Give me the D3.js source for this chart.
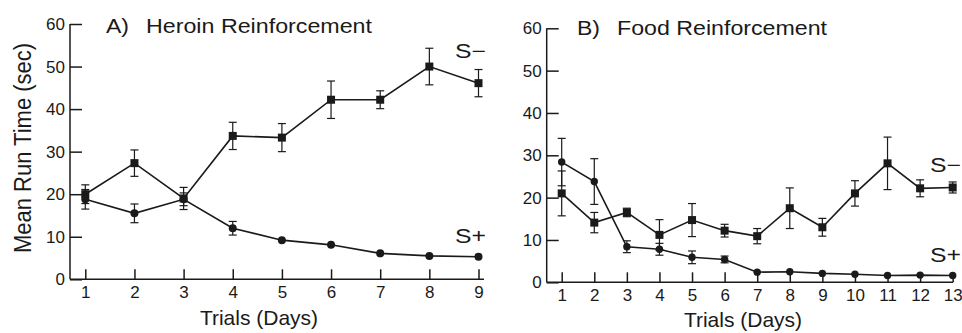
<!DOCTYPE html>
<html>
<head>
<meta charset="utf-8">
<script src="https://cdn.jsdelivr.net/npm/d3@7"></script>
<style>
  body { margin: 0; background: #fff; }
  svg { display: block; font-family: "Liberation Sans", Arial, Helvetica, sans-serif; }
  .axis text { font-size: 17px; fill: #1a1a1a; }
  .axis line, .axis path { stroke: #1a1a1a; stroke-width: 1.5; }
</style>
</head>
<body>
<script>
'use strict';

// tick values
const yTicks = [0, 10, 20, 30, 40, 50, 60];
const daysA = [1, 2, 3, 4, 5, 6, 7, 8, 9];
const daysB = [1, 2, 3, 4, 5, 6, 7, 8, 9, 10, 11, 12, 13];

// A) heroin reinforcement (mean run time, sec, and error)
const heroinSminus = [20.0, 27.3, 19.0, 33.7, 33.3, 42.2, 42.2, 50.0, 46.1];
const heroinSminusErr = [2.2, 3.1, 2.6, 3.2, 3.3, 4.4, 2.1, 4.3, 3.2];
const heroinSplus = [18.8, 15.5, 18.8, 12.0, 9.2, 8.1, 6.1, 5.5, 5.3];
const heroinSplusErr = [2.3, 2.2, 1.5, 1.6, 0, 0, 0, 0, 0];

// B) food reinforcement
const foodSminus = [21.0, 14.1, 16.5, 11.2, 14.7, 12.2, 10.9, 17.5, 13.0, 21.0, 28.1, 22.2, 22.4];
const foodSminusErr = [5.3, 2.4, 1.0, 3.6, 3.9, 1.5, 1.8, 4.8, 2.1, 3.0, 6.2, 2.0, 1.3];
const foodSplus = [28.4, 23.8, 8.4, 7.8, 5.9, 5.4, 2.4, 2.5, 2.1, 1.9, 1.6, 1.7, 1.6];
const foodSplusErr = [5.6, 5.4, 1.4, 1.4, 1.5, 0.8, 0, 0, 0, 0, 0, 0, 0];

const ink = '#1a1a1a';

const svg = d3.select('body').append('svg')
  .attr('width', 962)
  .attr('height', 333);

// y axis label (shared, left side)
svg.append('text')
  .attr('transform', 'translate(31,148) scale(1.12,1) rotate(-90)')
  .attr('text-anchor', 'middle')
  .style('font-size', '22px')
  .attr('fill', ink)
  .text('Mean Run Time (sec)');

// draw one panel
function drawPanel(p) {
  const x = d3.scaleLinear().domain([p.days[0], p.days[p.days.length - 1]]).range(p.xRange);
  const y = d3.scaleLinear().domain([0, 60]).range(p.yRange);
  const g = svg.append('g');

  // y axis, ticks pointing inward
  const yAxis = d3.axisLeft(y).tickValues(yTicks).tickSize(-12).tickSizeOuter(0).tickPadding(5);
  g.append('g').attr('class', 'axis')
    .attr('transform', `translate(${p.axisX},0)`)
    .call(yAxis)
    .call(s => s.select('.domain').remove());

  // x axis, ticks pointing up
  const xAxis = d3.axisBottom(x).tickValues(p.days).tickSize(-10).tickSizeOuter(0).tickPadding(7);
  g.append('g').attr('class', 'axis')
    .attr('transform', `translate(0,${y(0)})`)
    .call(xAxis)
    .call(s => s.select('.domain').remove());

  // axis lines
  g.append('line')
    .attr('x1', p.axisX).attr('x2', p.axisX)
    .attr('y1', y(60)).attr('y2', y(0))
    .attr('stroke', ink).attr('stroke-width', 1.5);
  g.append('line')
    .attr('x1', p.axisX).attr('x2', p.xEnd)
    .attr('y1', y(0)).attr('y2', y(0))
    .attr('stroke', ink).attr('stroke-width', 1.5);

  // series
  p.series.forEach(s => {
    const pts = p.days.map((d, i) => ({ day: d, v: s.values[i], e: s.err[i] }));

    g.append('path')
      .datum(pts)
      .attr('fill', 'none')
      .attr('stroke', ink)
      .attr('stroke-width', 1.6)
      .attr('d', d3.line().x(d => x(d.day)).y(d => y(d.v)));

    // error bars
    const eb = g.selectAll(null)
      .data(pts.filter(d => d.e > 0))
      .enter().append('g')
      .attr('stroke', ink).attr('stroke-width', 1.2);
    eb.append('line')
      .attr('x1', d => x(d.day)).attr('x2', d => x(d.day))
      .attr('y1', d => y(d.v + d.e)).attr('y2', d => y(d.v - d.e));
    eb.append('line')
      .attr('x1', d => x(d.day) - 4).attr('x2', d => x(d.day) + 4)
      .attr('y1', d => y(d.v + d.e)).attr('y2', d => y(d.v + d.e));
    eb.append('line')
      .attr('x1', d => x(d.day) - 4).attr('x2', d => x(d.day) + 4)
      .attr('y1', d => y(d.v - d.e)).attr('y2', d => y(d.v - d.e));

    // markers
    if (s.shape === 'square') {
      g.selectAll(null).data(pts).enter().append('rect')
        .attr('x', d => x(d.day) - 4).attr('y', d => y(d.v) - 4)
        .attr('width', 8).attr('height', 8)
        .attr('fill', ink);
    } else {
      g.selectAll(null).data(pts).enter().append('circle')
        .attr('cx', d => x(d.day)).attr('cy', d => y(d.v))
        .attr('r', p.r)
        .attr('fill', ink);
    }

    g.append('text')
      .attr('x', s.labelX).attr('y', s.labelY)
      .style('font-size', '20px')
      .attr('fill', ink)
      .attr('textLength', 31).attr('lengthAdjust', 'spacingAndGlyphs')
      .text(s.label);
  });

  // title
  g.append('text')
    .attr('x', p.titleX).attr('y', p.titleY)
    .style('font-size', '20px')
    .attr('fill', ink)
    .attr('textLength', 23).attr('lengthAdjust', 'spacingAndGlyphs')
    .text(p.letter);
  g.append('text')
    .attr('x', p.titleX + 40).attr('y', p.titleY)
    .style('font-size', '20px')
    .attr('fill', ink)
    .attr('textLength', p.titleLen).attr('lengthAdjust', 'spacingAndGlyphs')
    .text(p.title);

  // x axis label
  g.append('text')
    .attr('x', p.xLabelX).attr('y', p.xLabelY)
    .attr('text-anchor', 'middle')
    .style('font-size', '21px')
    .attr('fill', ink)
    .text('Trials (Days)');
}

drawPanel({
  days: daysA,
  xRange: [85.3, 478.5],
  yRange: [279.3, 24],
  axisX: 70,
  xEnd: 484,
  r: 4,
  letter: 'A)',
  title: 'Heroin Reinforcement',
  titleX: 106, titleY: 33, titleLen: 226,
  xLabelX: 259, xLabelY: 325,
  series: [
    { values: heroinSminus, err: heroinSminusErr, shape: 'square', label: 'S\u2212', labelX: 455, labelY: 58 },
    { values: heroinSplus, err: heroinSplusErr, shape: 'circle', label: 'S+', labelX: 455, labelY: 243 }
  ]
});

drawPanel({
  days: daysB,
  xRange: [561.7, 952.7],
  yRange: [282.3, 28.3],
  axisX: 546.7,
  xEnd: 953,
  r: 3.7,
  letter: 'B)',
  title: 'Food Reinforcement',
  titleX: 577, titleY: 35, titleLen: 210,
  xLabelX: 743, xLabelY: 327,
  series: [
    { values: foodSminus, err: foodSminusErr, shape: 'square', label: 'S\u2212', labelX: 930, labelY: 172 },
    { values: foodSplus, err: foodSplusErr, shape: 'circle', label: 'S+', labelX: 930, labelY: 262 }
  ]
});
</script>
</body>
</html>
